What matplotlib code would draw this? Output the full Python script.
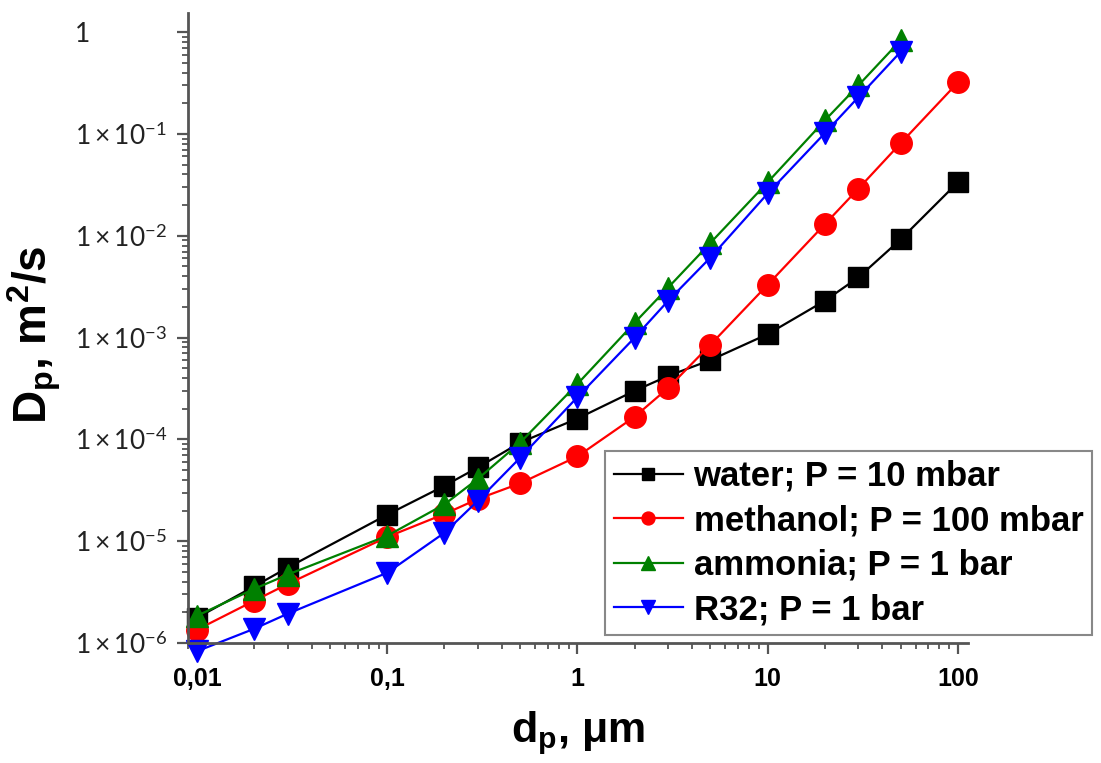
import matplotlib
matplotlib.use("Agg")
import matplotlib.pyplot as plt
from matplotlib.ticker import LogLocator, FixedLocator, FixedFormatter, NullFormatter

# ---- data ----
d_um = [0.01, 0.02, 0.03, 0.1, 0.2, 0.3, 0.5, 1, 2, 3, 5, 10, 20, 30, 50, 100]
water = [1.77e-6, 3.6e-6, 5.5e-6, 1.82e-5, 3.5e-5, 5.3e-5, 9.3e-5, 1.6e-4, 3.0e-4,
         4.2e-4, 6.0e-4, 1.08e-3, 2.3e-3, 3.9e-3, 9.2e-3, 3.35e-2]
methanol = [1.35e-6, 2.6e-6, 3.8e-6, 1.1e-5, 1.85e-5, 2.6e-5, 3.7e-5, 6.8e-5, 1.67e-4,
            3.2e-4, 8.5e-4, 3.3e-3, 1.3e-2, 2.9e-2, 8.1e-2, 0.32]
d_um_short = [0.01, 0.02, 0.03, 0.1, 0.2, 0.3, 0.5, 1, 2, 3, 5, 10, 20, 30, 50]
ammonia = [1.85e-6, 3.4e-6, 4.7e-6, 1.13e-5, 2.3e-5, 4.1e-5, 9.3e-5, 3.5e-4, 1.4e-3,
           3.1e-3, 8.5e-3, 3.35e-2, 0.136, 0.30, 0.83]
r32 = [8.3e-7, 1.38e-6, 1.94e-6, 4.9e-6, 1.21e-5, 2.5e-5, 6.6e-5, 2.6e-4, 1.0e-3,
       2.3e-3, 6.1e-3, 2.6e-2, 0.102, 0.23, 0.64]
labels = ["water; P = 10 mbar", "methanol; P = 100 mbar", "ammonia; P = 1 bar", "R32; P = 1 bar"]
x_tick_vals = [0.01, 0.1, 1, 10, 100]
x_tick_labels = ["0,01", "0,1", "1", "10", "100"]
y_tick_vals = [1e-6, 1e-5, 1e-4, 1e-3, 1e-2, 1e-1, 1]
y_tick_labels = [r"$1\times10^{-6}$", r"$1\times10^{-5}$", r"$1\times10^{-4}$",
                 r"$1\times10^{-3}$", r"$1\times10^{-2}$", r"$1\times10^{-1}$", "1"]

plt.rcParams['mathtext.fontset'] = 'custom'
plt.rcParams['mathtext.rm'] = 'Lato'
plt.rcParams['mathtext.it'] = 'Lato:italic'
plt.rcParams['mathtext.bf'] = 'Lato:bold'

fig = plt.figure(figsize=(11.01, 7.63), dpi=100)
ax = fig.add_axes([188/1101, 1-643/763, (968-188)/1101, (643-13)/763])
ax.set_xscale('log')
ax.set_yscale('log')

series = [
    (d_um, water, 'black', 's', 14),
    (d_um, methanol, 'red', 'o', 15.5),
    (d_um_short, ammonia, 'green', '^', 16),
    (d_um_short, r32, 'blue', 'v', 16),
]
handles = []
for (xs, ys, c, m, ms), lab in zip(series, labels):
    h, = ax.plot(xs, ys, color=c, marker=m, markersize=ms, lw=1.6,
                 markeredgecolor=c, label=lab, clip_on=False)
    handles.append(h)

ax.set_xlim(0.00897, 113)
ax.set_ylim(1e-6, 1.54)

spine_c = '#555555'
for s in ['top', 'right']:
    ax.spines[s].set_visible(False)
for s in ['left', 'bottom']:
    ax.spines[s].set_color(spine_c)
    ax.spines[s].set_linewidth(2)

ax.xaxis.set_major_locator(FixedLocator(x_tick_vals))
ax.xaxis.set_major_formatter(FixedFormatter(x_tick_labels))
ax.xaxis.set_minor_locator(LogLocator(base=10, subs=range(2, 10), numticks=20))
ax.xaxis.set_minor_formatter(NullFormatter())
ax.yaxis.set_major_locator(FixedLocator(y_tick_vals))
ax.yaxis.set_major_formatter(FixedFormatter(y_tick_labels))
ax.yaxis.set_minor_locator(LogLocator(base=10, subs=range(2, 10), numticks=20))
ax.yaxis.set_minor_formatter(NullFormatter())

ax.tick_params(which='major', direction='out', length=8, width=1.6, color=spine_c)
ax.tick_params(which='minor', direction='out', length=4, width=1.3, color=spine_c)
ax.tick_params(axis='x', which='major', pad=9, labelsize=18)
# left-aligned y tick labels starting at x ~ 75 px
ax.tick_params(axis='y', which='major', pad=(188 - 75) / (100 / 72) - 8, labelsize=19)
for t in ax.get_xticklabels():
    t.set_fontfamily('Liberation Sans')
    t.set_fontweight('bold')
for t in ax.get_yticklabels():
    t.set_fontfamily('Lato')
    t.set_color('#222222')
    t.set_horizontalalignment('left')

ax.set_xlabel(r"d$_\mathregular{p}$, μm", fontsize=31, fontweight='bold',
              family='Liberation Sans', labelpad=14)
ax.set_ylabel(r"D$_\mathregular{p}$, m$^\mathregular{2}$/s", fontsize=33, fontweight='bold',
              family='Liberation Sans')
ax.yaxis.set_label_coords(-(188 - 63) / 780, (643 - 335) / 630)

leg = ax.legend(handles=handles, loc='lower right',
                bbox_to_anchor=((1092 - 188) / 780, (643 - 635) / 630),
                prop={'family': 'Liberation Sans', 'weight': 'bold', 'size': 25},
                frameon=True, fancybox=False, edgecolor='#888888', framealpha=1,
                handlelength=2.0, handletextpad=0.3, labelspacing=0.33,
                borderpad=0.25, markerscale=0.6, borderaxespad=0)
leg.get_frame().set_linewidth(1.5)

fig.savefig("out.png", dpi=100)
